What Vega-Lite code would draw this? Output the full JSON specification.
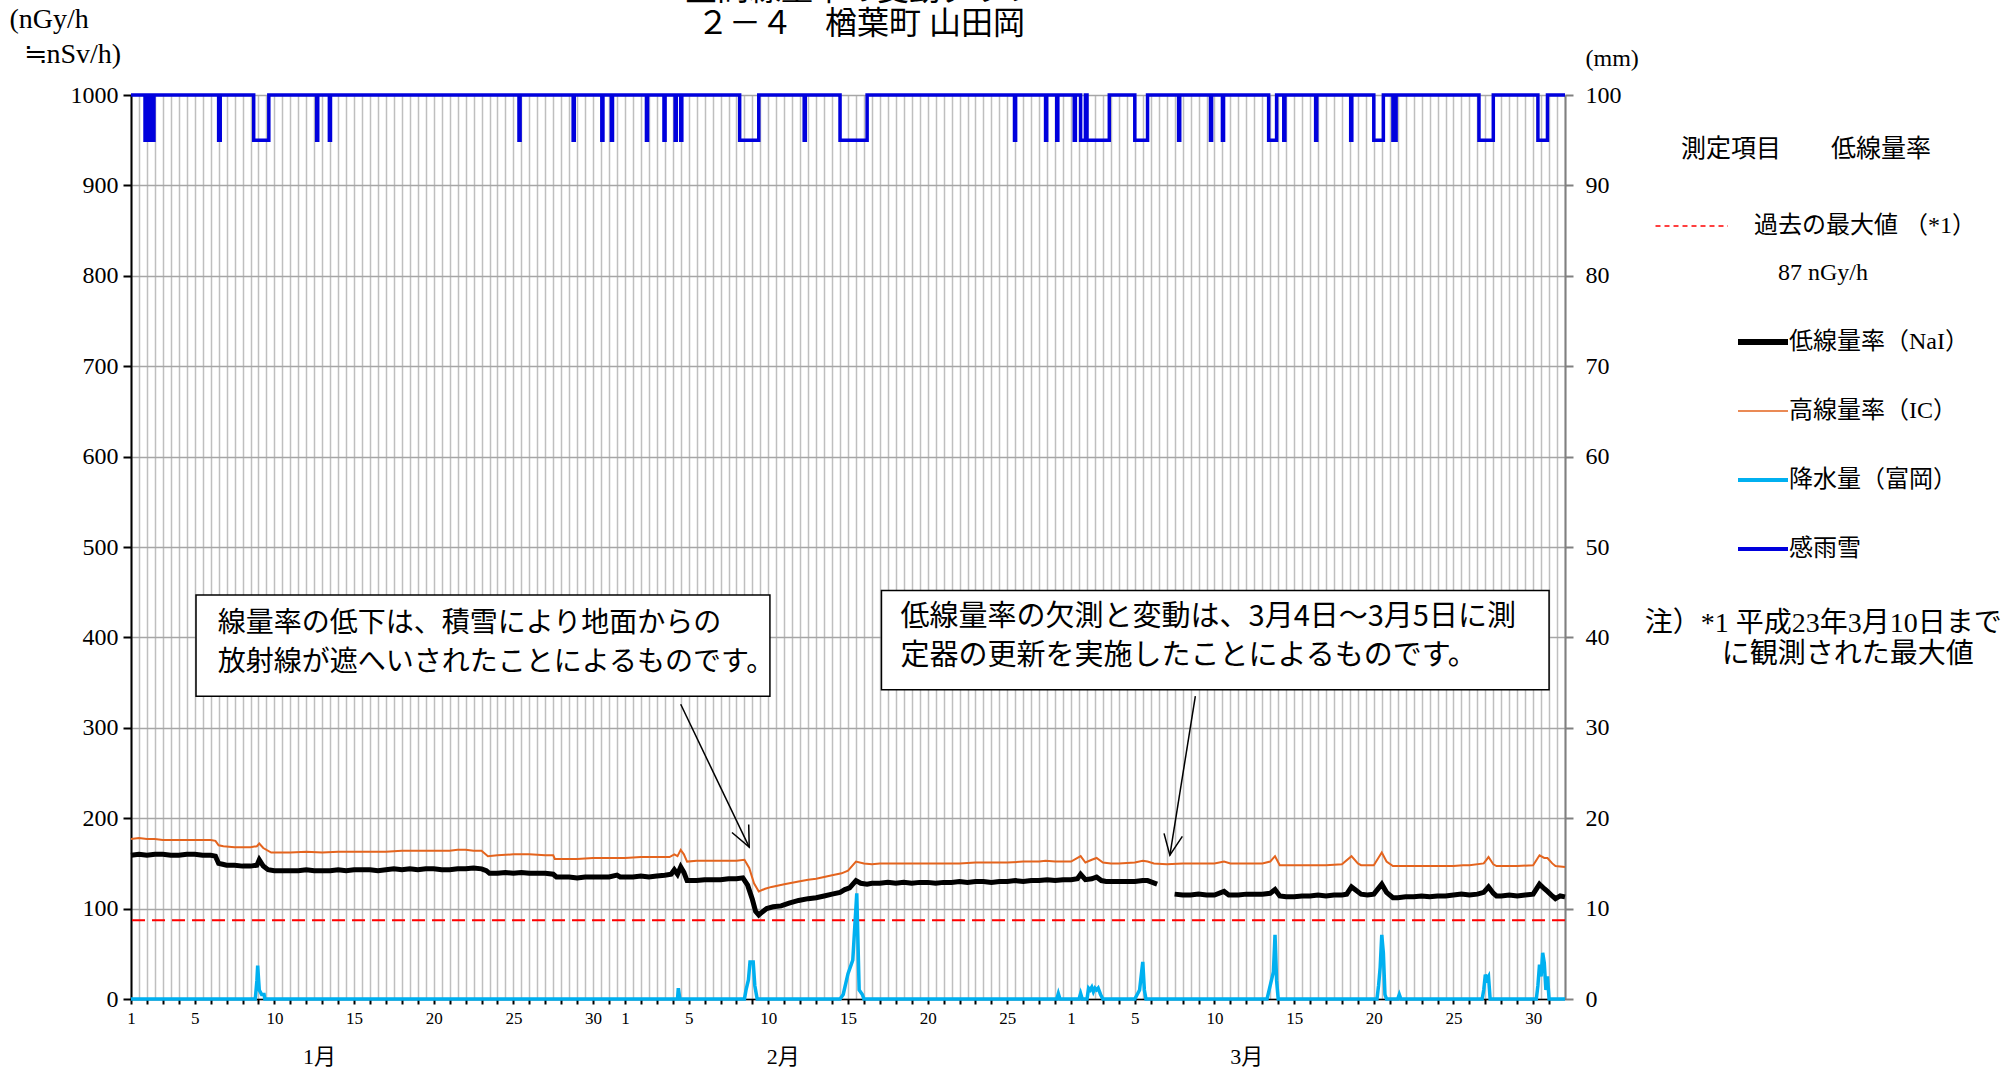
{
  "$schema": "https://vega.github.io/schema/vega-lite/v6.json",
  "width": 1434,
  "height": 904,
  "autosize": {"type": "none"},
  "padding": {"left": 131, "top": 95, "right": 445, "bottom": 73},
  "background": "white",
  "title": {
    "text": ["空間線量率の変動グラフ", "２－４　楢葉町 山田岡"],
    "font": "Liberation Serif, Noto Sans CJK JP",
    "fontSize": 32,
    "fontWeight": "normal",
    "lineHeight": 34,
    "baseline": "bottom",
    "anchor": "middle",
    "frame": "group",
    "dx": 13,
    "offset": -68,
    "color": "black"
  },
  "config": {
    "view": {"stroke": null},
    "font": "Liberation Serif, Noto Sans CJK JP"
  },
  "datasets": {
    "nai": [
      {"d":0,"v":159},{"d":0.5,"v":160},{"d":1,"v":159},{"d":1.5,"v":160},{"d":2,"v":160},{"d":2.5,"v":159},{"d":3,"v":159},{"d":3.5,"v":160},{"d":4,"v":160},{"d":4.5,"v":159},{"d":5,"v":159},{"d":5.3,"v":158},{"d":5.5,"v":150},{"d":5.75,"v":149},{"d":6,"v":148},{"d":6.5,"v":148},{"d":7,"v":147},{"d":7.5,"v":147},{"d":7.9,"v":148},{"d":8.05,"v":154},{"d":8.3,"v":147},{"d":8.6,"v":143},{"d":9,"v":142},{"d":9.5,"v":142},{"d":10,"v":142},{"d":10.5,"v":142},{"d":11,"v":143},{"d":11.5,"v":142},{"d":12,"v":142},{"d":12.5,"v":142},{"d":13,"v":143},{"d":13.5,"v":142},{"d":14,"v":143},{"d":14.5,"v":143},{"d":15,"v":143},{"d":15.5,"v":142},{"d":16,"v":143},{"d":16.5,"v":144},{"d":17,"v":143},{"d":17.5,"v":144},{"d":18,"v":143},{"d":18.5,"v":144},{"d":19,"v":144},{"d":19.5,"v":143},{"d":20,"v":143},{"d":20.5,"v":144},{"d":21,"v":144},{"d":21.5,"v":145},{"d":22,"v":144},{"d":22.3,"v":142},{"d":22.5,"v":139},{"d":23,"v":139},{"d":23.5,"v":140},{"d":24,"v":139},{"d":24.5,"v":140},{"d":25,"v":139},{"d":25.5,"v":139},{"d":26,"v":139},{"d":26.5,"v":138},{"d":26.7,"v":135},{"d":27,"v":135},{"d":27.5,"v":135},{"d":28,"v":134},{"d":28.5,"v":135},{"d":29,"v":135},{"d":29.5,"v":135},{"d":30,"v":135},{"d":30.5,"v":137},{"d":30.7,"v":135},{"d":31,"v":135},{"d":31.5,"v":135},{"d":32,"v":136},{"d":32.5,"v":135},{"d":33,"v":136},{"d":33.5,"v":137},{"d":33.9,"v":138},{"d":34.1,"v":143},{"d":34.3,"v":138},{"d":34.5,"v":146},{"d":34.7,"v":140},{"d":34.9,"v":131},{"d":35.5,"v":131},{"d":36,"v":132},{"d":36.5,"v":132},{"d":37,"v":132},{"d":37.5,"v":133},{"d":38,"v":133},{"d":38.4,"v":134},{"d":38.7,"v":126},{"d":39,"v":110},{"d":39.2,"v":97},{"d":39.4,"v":93},{"d":39.6,"v":96},{"d":39.9,"v":100},{"d":40.3,"v":102},{"d":40.8,"v":103},{"d":41.3,"v":106},{"d":41.9,"v":109},{"d":42.5,"v":111},{"d":43,"v":112},{"d":43.5,"v":114},{"d":44,"v":116},{"d":44.5,"v":118},{"d":44.8,"v":121},{"d":45.1,"v":123},{"d":45.5,"v":131},{"d":45.8,"v":128},{"d":46.2,"v":127},{"d":46.5,"v":128},{"d":47,"v":128},{"d":47.5,"v":129},{"d":48,"v":128},{"d":48.5,"v":129},{"d":49,"v":128},{"d":49.5,"v":129},{"d":50,"v":129},{"d":50.5,"v":128},{"d":51,"v":129},{"d":51.5,"v":129},{"d":52,"v":130},{"d":52.5,"v":129},{"d":53,"v":130},{"d":53.5,"v":130},{"d":54,"v":129},{"d":54.5,"v":130},{"d":55,"v":130},{"d":55.5,"v":131},{"d":56,"v":130},{"d":56.5,"v":131},{"d":57,"v":131},{"d":57.5,"v":132},{"d":58,"v":131},{"d":58.5,"v":132},{"d":59,"v":132},{"d":59.4,"v":133},{"d":59.6,"v":138},{"d":59.9,"v":132},{"d":60.3,"v":133},{"d":60.6,"v":135},{"d":60.9,"v":131},{"d":61.2,"v":130},{"d":61.6,"v":130},{"d":62,"v":130},{"d":62.5,"v":130},{"d":63,"v":130},{"d":63.5,"v":131},{"d":63.8,"v":131},{"d":64.1,"v":129},{"d":64.4,"v":127},{"d":65,"v":null},{"d":65.5,"v":116},{"d":66,"v":115},{"d":66.5,"v":115},{"d":67,"v":116},{"d":67.5,"v":115},{"d":68,"v":115},{"d":68.6,"v":119},{"d":68.9,"v":115},{"d":69.5,"v":115},{"d":70,"v":116},{"d":70.5,"v":116},{"d":71,"v":116},{"d":71.5,"v":117},{"d":71.8,"v":121},{"d":72.1,"v":114},{"d":72.5,"v":113},{"d":73,"v":113},{"d":73.5,"v":114},{"d":74,"v":114},{"d":74.5,"v":115},{"d":75,"v":114},{"d":75.5,"v":115},{"d":76,"v":115},{"d":76.3,"v":116},{"d":76.6,"v":124},{"d":76.9,"v":120},{"d":77.2,"v":116},{"d":77.6,"v":115},{"d":78,"v":116},{"d":78.5,"v":127},{"d":78.8,"v":118},{"d":79.2,"v":112},{"d":79.5,"v":112},{"d":80,"v":113},{"d":80.5,"v":113},{"d":81,"v":114},{"d":81.5,"v":113},{"d":82,"v":114},{"d":82.5,"v":114},{"d":83,"v":115},{"d":83.5,"v":116},{"d":84,"v":115},{"d":84.5,"v":116},{"d":84.9,"v":118},{"d":85.2,"v":124},{"d":85.5,"v":117},{"d":85.7,"v":114},{"d":86,"v":114},{"d":86.5,"v":115},{"d":87,"v":114},{"d":87.5,"v":115},{"d":88,"v":116},{"d":88.4,"v":127},{"d":88.7,"v":122},{"d":88.9,"v":119},{"d":89.2,"v":114},{"d":89.4,"v":111},{"d":89.7,"v":114},{"d":90,"v":113}
    ],
    "ic": [
      {"d":0,"v":177},{"d":0.5,"v":178},{"d":1,"v":177},{"d":1.5,"v":177},{"d":2,"v":176},{"d":2.5,"v":176},{"d":3,"v":176},{"d":3.5,"v":176},{"d":4,"v":176},{"d":4.5,"v":176},{"d":5,"v":176},{"d":5.3,"v":175},{"d":5.5,"v":170},{"d":5.8,"v":169},{"d":6.5,"v":168},{"d":7,"v":168},{"d":7.5,"v":168},{"d":7.9,"v":169},{"d":8.05,"v":172},{"d":8.3,"v":167},{"d":8.8,"v":162},{"d":9.5,"v":162},{"d":10,"v":162},{"d":11,"v":163},{"d":12,"v":162},{"d":13,"v":163},{"d":14,"v":163},{"d":15,"v":163},{"d":16,"v":163},{"d":17,"v":164},{"d":18,"v":164},{"d":19,"v":164},{"d":20,"v":164},{"d":20.5,"v":165},{"d":21,"v":165},{"d":21.5,"v":164},{"d":22,"v":164},{"d":22.4,"v":158},{"d":23,"v":159},{"d":24,"v":160},{"d":25,"v":160},{"d":26,"v":159},{"d":26.5,"v":159},{"d":26.6,"v":155},{"d":27,"v":155},{"d":28,"v":155},{"d":29,"v":156},{"d":30,"v":156},{"d":31,"v":156},{"d":32,"v":157},{"d":33,"v":157},{"d":33.8,"v":157},{"d":34.1,"v":160},{"d":34.3,"v":158},{"d":34.5,"v":165},{"d":34.7,"v":160},{"d":34.9,"v":152},{"d":35.5,"v":153},{"d":36,"v":153},{"d":37,"v":153},{"d":38,"v":153},{"d":38.5,"v":154},{"d":38.8,"v":145},{"d":39.1,"v":128},{"d":39.4,"v":119},{"d":39.8,"v":122},{"d":40.2,"v":124},{"d":41,"v":127},{"d":41.9,"v":130},{"d":42.5,"v":132},{"d":43,"v":133},{"d":43.5,"v":135},{"d":44,"v":137},{"d":44.6,"v":139},{"d":45,"v":142},{"d":45.5,"v":152},{"d":46,"v":150},{"d":46.5,"v":149},{"d":47,"v":150},{"d":48,"v":150},{"d":49,"v":150},{"d":50,"v":150},{"d":51,"v":150},{"d":52,"v":150},{"d":53,"v":151},{"d":54,"v":151},{"d":55,"v":151},{"d":56,"v":152},{"d":57,"v":152},{"d":57.4,"v":153},{"d":58,"v":152},{"d":59,"v":152},{"d":59.6,"v":158},{"d":59.9,"v":151},{"d":60.3,"v":154},{"d":60.6,"v":156},{"d":61,"v":151},{"d":61.5,"v":150},{"d":62,"v":150},{"d":63,"v":151},{"d":63.5,"v":153},{"d":63.8,"v":152},{"d":64.2,"v":150},{"d":65,"v":149},{"d":66,"v":150},{"d":67,"v":150},{"d":68,"v":150},{"d":68.6,"v":152},{"d":69,"v":150},{"d":70,"v":150},{"d":71,"v":150},{"d":71.5,"v":152},{"d":71.8,"v":158},{"d":72.1,"v":148},{"d":73,"v":148},{"d":74,"v":148},{"d":75,"v":148},{"d":76,"v":149},{"d":76.6,"v":158},{"d":77,"v":150},{"d":77.2,"v":148},{"d":78,"v":148},{"d":78.5,"v":162},{"d":78.8,"v":152},{"d":79.2,"v":147},{"d":80,"v":147},{"d":81,"v":147},{"d":82,"v":147},{"d":83,"v":147},{"d":83.6,"v":148},{"d":84,"v":148},{"d":84.9,"v":150},{"d":85.2,"v":157},{"d":85.5,"v":149},{"d":85.7,"v":147},{"d":86,"v":147},{"d":87,"v":147},{"d":88,"v":148},{"d":88.4,"v":159},{"d":88.7,"v":156},{"d":88.9,"v":156},{"d":89.2,"v":150},{"d":89.4,"v":147},{"d":90,"v":146}
    ],
    "rain": [
      {"d":0,"v":0},{"d":7.8,"v":0},{"d":7.9,"v":2},{"d":7.95,"v":3.7},{"d":8.05,"v":1},{"d":8.2,"v":0.5},{"d":8.35,"v":0.5},{"d":8.4,"v":0},{"d":34.3,"v":0},{"d":34.35,"v":1.2},{"d":34.45,"v":0},{"d":38.5,"v":0},{"d":38.6,"v":1},{"d":38.75,"v":2.1},{"d":38.85,"v":4.1},{"d":39.05,"v":4.1},{"d":39.15,"v":1.5},{"d":39.3,"v":0},{"d":44.5,"v":0},{"d":44.7,"v":0.5},{"d":45.0,"v":2.8},{"d":45.3,"v":4.3},{"d":45.55,"v":11.7},{"d":45.7,"v":1},{"d":45.9,"v":0.5},{"d":46.0,"v":0},{"d":58.1,"v":0},{"d":58.2,"v":0.6},{"d":58.3,"v":0},{"d":59.5,"v":0},{"d":59.6,"v":0.6},{"d":59.7,"v":0},{"d":60.0,"v":0},{"d":60.1,"v":1.2},{"d":60.2,"v":1.0},{"d":60.3,"v":1.3},{"d":60.4,"v":0.8},{"d":60.5,"v":1.2},{"d":60.6,"v":1.0},{"d":60.7,"v":1.2},{"d":60.85,"v":0.5},{"d":61.0,"v":0},{"d":63.0,"v":0},{"d":63.15,"v":0.5},{"d":63.3,"v":1},{"d":63.5,"v":4.1},{"d":63.6,"v":1},{"d":63.7,"v":0},{"d":71.3,"v":0},{"d":71.5,"v":1.5},{"d":71.7,"v":3},{"d":71.8,"v":7.1},{"d":71.9,"v":2},{"d":72.0,"v":0},{"d":78.2,"v":0},{"d":78.3,"v":1.5},{"d":78.4,"v":3.5},{"d":78.5,"v":7.1},{"d":78.6,"v":5.1},{"d":78.7,"v":0.5},{"d":78.8,"v":0},{"d":79.5,"v":0},{"d":79.6,"v":0.5},{"d":79.7,"v":0},{"d":84.8,"v":0},{"d":84.9,"v":1},{"d":85.0,"v":2.7},{"d":85.1,"v":2.2},{"d":85.2,"v":2.5},{"d":85.3,"v":0},{"d":88.2,"v":0},{"d":88.3,"v":1.5},{"d":88.4,"v":3.8},{"d":88.5,"v":2.5},{"d":88.6,"v":5.1},{"d":88.7,"v":4},{"d":88.8,"v":1},{"d":88.9,"v":2.5},{"d":89.0,"v":0},{"d":90,"v":0}
    ],
    "sensor": [
      {"d":0,"v":1000},
      {"d":0.88,"v":950},{"d":0.96,"v":1000},{"d":1.04,"v":950},{"d":1.12,"v":1000},{"d":1.2,"v":950},{"d":1.28,"v":1000},{"d":1.36,"v":950},{"d":1.44,"v":1000},
      {"d":5.5,"v":950},{"d":5.6,"v":1000},
      {"d":7.7,"v":950},{"d":8.65,"v":1000},
      {"d":11.65,"v":950},{"d":11.72,"v":1000},
      {"d":12.45,"v":950},{"d":12.52,"v":1000},
      {"d":24.35,"v":950},{"d":24.42,"v":1000},
      {"d":27.75,"v":950},{"d":27.82,"v":1000},
      {"d":29.55,"v":950},{"d":29.62,"v":1000},
      {"d":30.15,"v":950},{"d":30.22,"v":1000},
      {"d":32.35,"v":950},{"d":32.42,"v":1000},
      {"d":33.45,"v":950},{"d":33.52,"v":1000},
      {"d":34.15,"v":950},{"d":34.22,"v":1000},{"d":34.5,"v":950},{"d":34.57,"v":1000},
      {"d":38.2,"v":950},{"d":39.4,"v":1000},
      {"d":42.25,"v":950},{"d":42.32,"v":1000},
      {"d":44.5,"v":950},{"d":46.2,"v":1000},
      {"d":55.45,"v":950},{"d":55.52,"v":1000},
      {"d":57.4,"v":950},{"d":57.47,"v":1000},{"d":58.1,"v":950},{"d":58.17,"v":1000},
      {"d":59.2,"v":950},{"d":59.27,"v":1000},{"d":59.6,"v":950},{"d":59.9,"v":1000},{"d":60.0,"v":950},{"d":61.4,"v":1000},
      {"d":63.0,"v":950},{"d":63.8,"v":1000},
      {"d":65.75,"v":950},{"d":65.82,"v":1000},
      {"d":67.75,"v":950},{"d":67.82,"v":1000},{"d":68.5,"v":950},{"d":68.57,"v":1000},
      {"d":71.4,"v":950},{"d":71.9,"v":1000},{"d":72.35,"v":950},{"d":72.42,"v":1000},
      {"d":74.35,"v":950},{"d":74.42,"v":1000},
      {"d":76.55,"v":950},{"d":76.62,"v":1000},
      {"d":78.0,"v":950},{"d":78.6,"v":1000},{"d":79.2,"v":950},{"d":79.4,"v":1000},
      {"d":84.6,"v":950},{"d":85.5,"v":1000},
      {"d":88.3,"v":950},{"d":88.9,"v":1000},
      {"d":90,"v":1000}
    ]
  },
  "layer": [
    {
      "data": {"values": [{}]},
      "mark": {"type": "rule", "color": "#FF0000", "strokeDash": [13, 7], "strokeWidth": 2},
      "encoding": {
        "y": {"datum": 87, "type": "quantitative", "scale": {"domain": [0, 1000], "nice": false}, "axis": null},
        "color": {
          "datum": "過去の最大値 （*1）",
          "type": "nominal",
          "scale": {
            "domain": ["過去の最大値 （*1）", "低線量率（NaI）", "高線量率（IC）", "降水量（富岡）", "感雨雪"],
            "range": ["#FF0000", "#000000", "#E4641E", "#00B0F0", "#0000DD"]
          },
          "legend": {
            "orient": "none",
            "legendX": 1550,
            "legendY": 42,
            "title": "測定項目　　低線量率",
            "titleFont": "Noto Sans CJK JP",
            "titleFontSize": 25,
            "titleFontWeight": "normal",
            "titleColor": "black",
            "titleLimit": 600,
            "titlePadding": 52,
            "labelFont": "Liberation Serif, Noto Sans CJK JP",
            "labelFontSize": 24,
            "labelColor": "black",
            "labelLimit": 600,
            "labelOffset": 14,
            "rowPadding": 45,
            "symbolType": "stroke",
            "symbolSize": 2500,
            "labelExpr": "datum.label == '過去の最大値 （*1）' ? ['過去の最大値 （*1）', '\u200b　87 nGy/h'] : datum.label",
            "encode": {
              "title": {"update": {"dx": {"value": -70}}},
              "labels": {"update": {"lineHeight": {"value": 47}, "dx": {"signal": "datum.index === 0 ? -35 : 0"}}},
              "symbols": {
                "update": {
                  "shape": {"signal": "datum.index === 0 ? 'M-4.3,0H-1.4' : 'stroke'"},
                  "strokeWidth": {"signal": "datum.value == '低線量率（NaI）' ? 6 : datum.value == '高線量率（IC）' ? 1.5 : datum.value == '過去の最大値 （*1）' ? 1.5 : 4"},
                  "strokeDash": {"signal": "datum.value == '過去の最大値 （*1）' ? [5, 4] : [1, 0]"}
                }
              }
            }
          }
        }
      }
    },
    {
      "data": {"name": "ic"},
      "mark": {"type": "line", "strokeWidth": 2},
      "encoding": {
        "x": {
          "field": "d", "type": "quantitative",
          "scale": {"domain": [0, 90], "nice": false, "zero": false},
          "axis": {
            "orient": "bottom",
            "tickCount": 180, "grid": true, "gridColor": "#BFBFBF", "gridWidth": 1.5,
            "labels": false, "ticks": false, "domain": false, "title": null
          }
        },
        "y": {"field": "v", "type": "quantitative", "scale": {"domain": [0, 1000], "nice": false}, "axis": null},
        "color": {"datum": "高線量率（IC）"}
      }
    },
    {
      "data": {"name": "nai"},
      "mark": {"type": "line", "strokeWidth": 5, "invalid": "break-paths-show-domains"},
      "encoding": {
        "x": {
          "field": "d", "type": "quantitative",
          "axis": {
            "orient": "bottom",
            "values": [0,1,2,3,4,5,6,7,8,9,10,11,12,13,14,15,16,17,18,19,20,21,22,23,24,25,26,27,28,29,30,31,32,33,34,35,36,37,38,39,40,41,42,43,44,45,46,47,48,49,50,51,52,53,54,55,56,57,58,59,60,61,62,63,64,65,66,67,68,69,70,71,72,73,74,75,76,77,78,79,80,81,82,83,84,85,86,87,88,89],
            "grid": false, "domainColor": "black", "domainWidth": 1.5,
            "tickColor": "black", "tickSize": 5, "tickWidth": 2,
            "labelFontSize": 17, "labelColor": "black", "labelFont": "Liberation Serif",
            "labelPadding": 6, "labelOverlap": false, "labelFlush": false,
            "labelExpr": "indexof([1,5,10,15,20,25,30], datum.value < 31 ? datum.value + 1 : (datum.value < 59 ? datum.value - 30 : datum.value - 58)) >= 0 ? '' + (datum.value < 31 ? datum.value + 1 : (datum.value < 59 ? datum.value - 30 : datum.value - 58)) : ''",
            "title": null
          }
        },
        "y": {
          "field": "v", "type": "quantitative",
          "scale": {"domain": [0, 1000], "nice": false},
          "axis": {
            "orient": "left",
            "values": [0,100,200,300,400,500,600,700,800,900,1000],
            "format": "d",
            "grid": true, "gridColor": "#A6A6A6", "gridWidth": 1.5,
            "domainColor": "black", "domainWidth": 2,
            "tickColor": "black", "tickSize": 8, "tickWidth": 2,
            "labelFontSize": 24, "labelColor": "black", "labelPadding": 5,
            "labelFont": "Liberation Serif",
            "title": ["(nGy/h", "\u200b\u2002≒nSv/h)"],
            "titleFont": "Liberation Serif, Noto Sans CJK JP",
            "titleFontSize": 28, "titleFontWeight": "normal", "titleColor": "black",
            "titleAngle": 0, "titleAlign": "left", "titleBaseline": "middle",
            "titleLineHeight": 35, "titleX": -122, "titleY": -76, "titleLimit": 400
          }
        },
        "color": {"datum": "低線量率（NaI）"}
      }
    },
    {
      "data": {"name": "sensor"},
      "mark": {"type": "line", "strokeWidth": 3.5, "interpolate": "step-after"},
      "encoding": {
        "x": {"field": "d", "type": "quantitative", "axis": null},
        "y": {"field": "v", "type": "quantitative", "scale": {"domain": [0, 1000], "nice": false}, "axis": null},
        "color": {"datum": "感雨雪"}
      }
    },
    {
      "data": {"values": [{}]},
      "mark": {"type": "rect", "fill": "white", "stroke": "black", "strokeWidth": 1.5},
      "encoding": {
        "x": {"datum": 4.08, "type": "quantitative", "axis": null},
        "x2": {"datum": 40.1},
        "y": {"datum": 447, "type": "quantitative", "scale": {"domain": [0, 1000], "nice": false}, "axis": null},
        "y2": {"datum": 335}
      }
    },
    {
      "data": {"values": [{}]},
      "mark": {"type": "rect", "fill": "white", "stroke": "black", "strokeWidth": 1.5},
      "encoding": {
        "x": {"datum": 47.1, "type": "quantitative", "axis": null},
        "x2": {"datum": 89.0},
        "y": {"datum": 452, "type": "quantitative", "scale": {"domain": [0, 1000], "nice": false}, "axis": null},
        "y2": {"datum": 342}
      }
    },
    {
      "data": {"values": [{}]},
      "mark": {
        "type": "text", "align": "left", "baseline": "middle",
        "font": "Noto Sans CJK JP", "fontSize": 28, "lineHeight": 39, "color": "black",
        "text": ["線量率の低下は、積雪により地面からの", "放射線が遮へいされたことによるものです。"]
      },
      "encoding": {
        "x": {"datum": 5.45, "type": "quantitative", "axis": null},
        "y": {"datum": 415, "type": "quantitative", "scale": {"domain": [0, 1000], "nice": false}, "axis": null}
      }
    },
    {
      "data": {"values": [{}]},
      "mark": {
        "type": "text", "align": "left", "baseline": "middle",
        "font": "Noto Sans CJK JP", "fontSize": 29, "lineHeight": 39, "color": "black",
        "text": ["低線量率の欠測と変動は、3月4日～3月5日に測", "定器の更新を実施したことによるものです。"]
      },
      "encoding": {
        "x": {"datum": 48.3, "type": "quantitative", "axis": null},
        "y": {"datum": 423, "type": "quantitative", "scale": {"domain": [0, 1000], "nice": false}, "axis": null}
      }
    },
    {
      "data": {"values": [{}]},
      "mark": {"type": "rule", "color": "black", "strokeWidth": 1.5},
      "encoding": {
        "x": {"datum": 34.5, "type": "quantitative", "axis": null},
        "y": {"datum": 326, "type": "quantitative", "scale": {"domain": [0, 1000], "nice": false}, "axis": null},
        "x2": {"datum": 38.8},
        "y2": {"datum": 168}
      }
    },
    {
      "data": {"values": [{}]},
      "mark": {"type": "rule", "color": "black", "strokeWidth": 1.5},
      "encoding": {
        "x": {"datum": 66.8, "type": "quantitative", "axis": null},
        "y": {"datum": 335, "type": "quantitative", "scale": {"domain": [0, 1000], "nice": false}, "axis": null},
        "x2": {"datum": 65.2},
        "y2": {"datum": 159}
      }
    },
    {
      "data": {"values": [{}]},
      "mark": {"type": "point", "shape": "M-0.45,-1L0,0L0.45,-1", "filled": false, "size": 1700, "color": "black", "strokeWidth": 1.5, "angle": -25.5, "opacity": 1},
      "encoding": {
        "x": {"datum": 38.8, "type": "quantitative", "axis": null},
        "y": {"datum": 168, "type": "quantitative", "scale": {"domain": [0, 1000], "nice": false}, "axis": null}
      }
    },
    {
      "data": {"values": [{}]},
      "mark": {"type": "point", "shape": "M-0.45,-1L0,0L0.45,-1", "filled": false, "size": 1700, "color": "black", "strokeWidth": 1.5, "angle": 9.3, "opacity": 1},
      "encoding": {
        "x": {"datum": 65.2, "type": "quantitative", "axis": null},
        "y": {"datum": 159, "type": "quantitative", "scale": {"domain": [0, 1000], "nice": false}, "axis": null}
      }
    },
    {
      "data": {"values": [{}]},
      "mark": {
        "type": "text", "align": "left", "baseline": "middle",
        "font": "Liberation Serif, Noto Sans CJK JP", "fontSize": 28, "lineHeight": 31, "color": "black",
        "text": ["注）*1  平成23年3月10日まで", "\u200b　　\u2002 に観測された最大値"]
      },
      "encoding": {
        "x": {"datum": 95.0, "type": "quantitative", "axis": null},
        "y": {"datum": 415, "type": "quantitative", "scale": {"domain": [0, 1000], "nice": false}, "axis": null}
      }
    },
    {
      "data": {"name": "rain"},
      "mark": {"type": "line", "strokeWidth": 3.5},
      "encoding": {
        "x": {
          "field": "d", "type": "quantitative",
          "axis": {
            "orient": "bottom",
            "values": [11.8, 40.9, 70.0],
            "labelExpr": "datum.value < 31 ? '1月' : (datum.value < 59 ? '2月' : '3月')",
            "ticks": false, "domain": false, "grid": false,
            "labelPadding": 47, "labelFontSize": 22, "labelColor": "black",
            "labelFont": "Liberation Serif, Noto Sans CJK JP",
            "labelOverlap": false, "labelFlush": false, "title": null
          }
        },
        "y": {
          "field": "v", "type": "quantitative",
          "scale": {"domain": [0, 100], "nice": false},
          "axis": {
            "orient": "right",
            "values": [0,10,20,30,40,50,60,70,80,90,100],
            "grid": false,
            "domainColor": "#808080", "domainWidth": 2,
            "tickColor": "#808080", "tickSize": 8, "tickWidth": 2,
            "labelFontSize": 24, "labelColor": "black", "labelFont": "Liberation Serif",
            "labelPadding": 12,
            "title": "(mm)",
            "titleFont": "Liberation Serif, Noto Sans CJK JP",
            "titleFontSize": 24, "titleFontWeight": "normal", "titleColor": "black",
            "titleAngle": 0, "titleAlign": "left", "titleBaseline": "middle",
            "titleX": 20, "titleY": -37
          }
        },
        "color": {"datum": "降水量（富岡）"}
      }
    }
  ],
  "resolve": {"scale": {"y": "independent"}, "axis": {"x": "independent"}}
}
